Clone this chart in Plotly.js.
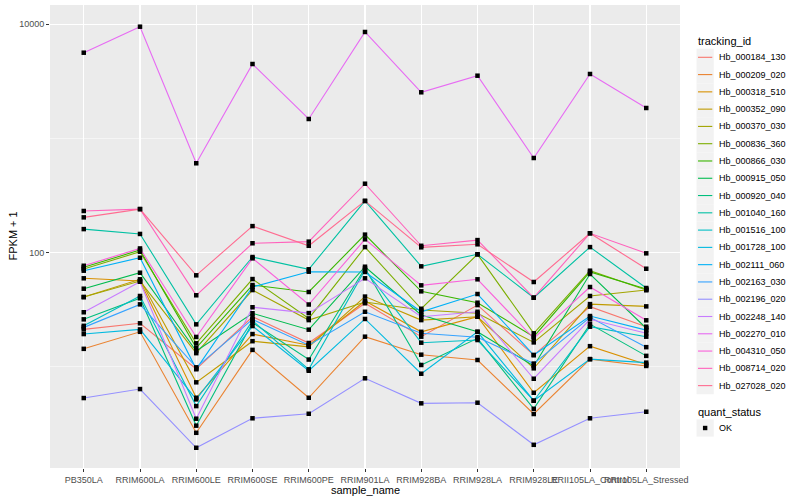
<!DOCTYPE html>
<html>
<head>
<meta charset="utf-8">
<script src="https://cdn.plot.ly/plotly-3.0.1.min.js"></script>
<style>html,body{margin:0;padding:0;background:#fff;}#chart{width:800px;height:500px;}</style>
</head>
<body>
<div id="chart"></div>
<script>
const categories = ['PB350LA','RRIM600LA','RRIM600LE','RRIM600SE','RRIM600PE','RRIM901LA','RRIM928BA','RRIM928LA','RRIM928LE','RRII105LA_Control','RRII105LA_Stressed'];

const trackingIds = ['Hb_000184_130','Hb_000209_020','Hb_000318_510','Hb_000352_090','Hb_000370_030','Hb_000836_360','Hb_000866_030','Hb_000915_050','Hb_000920_040','Hb_001040_160','Hb_001516_100','Hb_001728_100','Hb_002111_060','Hb_002163_030','Hb_002196_020','Hb_002248_140','Hb_002270_010','Hb_004310_050','Hb_008714_020','Hb_027028_020'];

const Hb_000184_130 = [21.3, 24.1, 9.58, 27.5, 16.2, 36.1, 18.4, 34.8, 12.7, 33.7, 22.5];
const Hb_000209_020 = [14.4, 20.3, 2.65, 14.1, 5.37, 18.4, 12.8, 11.5, 3.87, 11.7, 10.2];
const Hb_000318_510 = [59.7, 56.5, 5.37, 19.4, 15.5, 37.8, 20.3, 27.5, 5.94, 15.2, 10.5];
const Hb_000352_090 = [40.9, 58.5, 7.33, 16.8, 15.0, 41.3, 25.7, 27.5, 9.72, 35.5, 33.9];
const Hb_000370_030 = [40.9, 56.5, 13.2, 47.1, 25.7, 37.0, 31.5, 29.5, 16.4, 41.8, 47.1];
const Hb_000836_360 = [72.0, 102, 16.1, 58.8, 26.6, 112, 32.3, 96.8, 19.7, 69.6, 47.1];
const Hb_000866_030 = [74.5, 105.6, 14.7, 52.1, 45.3, 144, 45.9, 36.5, 18.4, 67.8, 48.1];
const Hb_000915_050 = [48.4, 66.8, 13.8, 29.5, 21.2, 75.4, 28.5, 20.3, 10.2, 65.1, 21.8];
const Hb_000920_040 = [26.1, 39.9, 3.06, 24.4, 11.6, 73.0, 10.4, 17.8, 4.30, 23.7, 12.5];
const Hb_001040_160 = [161, 146, 23.6, 91.7, 71.6, 284, 76.0, 96.8, 40.4, 112, 49.1];
const Hb_001516_100 = [22.9, 41.8, 4.54, 25.4, 9.53, 70.6, 16.3, 17.2, 5.06, 22.5, 18.4];
const Hb_001728_100 = [19.4, 21.3, 5.20, 22.8, 9.26, 26.3, 8.72, 20.3, 5.06, 11.7, 10.9];
const Hb_002111_060 = [69.6, 90.4, 9.58, 50.1, 68.2, 67.8, 30.4, 43.5, 12.7, 27.9, 21.0];
const Hb_002163_030 = [22.2, 35.3, 9.92, 26.1, 15.5, 30.4, 19.7, 18.2, 10.7, 27.2, 14.9];
const Hb_002196_020 = [5.34, 6.40, 1.96, 3.55, 3.89, 7.95, 4.80, 4.86, 2.08, 3.55, 4.05];
const Hb_002248_140 = [30.1, 55.7, 3.52, 33.3, 29.6, 59.7, 27.5, 30.4, 7.88, 26.1, 19.7];
const Hb_002270_010 = [5641, 9530, 607, 4491, 1482, 8565, 2539, 3548, 675, 3672, 1850];
const Hb_004310_050 = [76.9, 109, 18.3, 89.3, 35.2, 131, 51.8, 58.5, 17.8, 50.1, 25.6];
const Hb_008714_020 = [232, 241, 42.4, 121, 125, 402, 115, 129, 40.4, 148, 98.8];
const Hb_027028_020 = [204, 241, 63.4, 171, 115, 284, 111.5, 118.5, 55.4, 148, 72.4];

const seriesValues = [Hb_000184_130, Hb_000209_020, Hb_000318_510, Hb_000352_090, Hb_000370_030, Hb_000836_360, Hb_000866_030, Hb_000915_050, Hb_000920_040, Hb_001040_160, Hb_001516_100, Hb_001728_100, Hb_002111_060, Hb_002163_030, Hb_002196_020, Hb_002248_140, Hb_002270_010, Hb_004310_050, Hb_008714_020, Hb_027028_020];

const quantStatus = ['OK'];

const colors = ['#F8766D','#EA8331','#D89000','#C09B00','#A3A500','#7CAE00','#39B600','#00BB4E','#00BF7D','#00C1A3','#00BFC4','#00BAE0','#00B0F6','#35A2FF','#9590FF','#C77CFF','#E76BF3','#FA62DB','#FF62BC','#FF6C91'];

const FONT = 'Liberation Sans, Arial, Helvetica, sans-serif';

// plot area in pixels (used for legend / title placement only)
const PL = 50, PR = 680, PT = 5, PB = 468;
const xp = px => (px - PL) / (PR - PL);
const yp = py => (PB - py) / (PB - PT);

const traces = trackingIds.map((id, i) => ({
  type: 'scatter', mode: 'lines', name: id,
  x: categories, y: seriesValues[i],
  line: {color: colors[i], width: 1.1},
  showlegend: false, hoverinfo: 'skip'
}));

const allX = [], allY = [];
seriesValues.forEach(vals => vals.forEach((v, j) => { allX.push(categories[j]); allY.push(v); }));
traces.push({
  type: 'scatter', mode: 'markers', name: quantStatus[0],
  x: allX, y: allY,
  marker: {color: '#000000', size: 4.5, symbol: 'square', line: {width: 0}},
  showlegend: false, hoverinfo: 'skip'
});

// hand-built ggplot-style legends
const shapes = [], annotations = [];
const KEY = 17.28, KX0 = 696.5, TX = 716.5;
annotations.push({xref: 'paper', yref: 'paper', x: xp(696), y: yp(40.7), xanchor: 'left', yanchor: 'middle',
  text: 'tracking_id', showarrow: false, font: {family: FONT, size: 11, color: '#000000'}});
trackingIds.forEach((id, i) => {
  const cy = 57.3 + i * KEY;
  shapes.push({type: 'rect', xref: 'paper', yref: 'paper', x0: xp(KX0), x1: xp(KX0 + KEY), y0: yp(cy - KEY / 2), y1: yp(cy + KEY / 2),
    fillcolor: '#F2F2F2', line: {width: 0}, layer: 'above'});
  shapes.push({type: 'line', xref: 'paper', yref: 'paper', x0: xp(KX0 + 1.5), x1: xp(KX0 + KEY - 1.5), y0: yp(cy), y1: yp(cy),
    line: {color: colors[i], width: 1.1}, layer: 'above'});
  annotations.push({xref: 'paper', yref: 'paper', x: xp(TX), y: yp(cy), xanchor: 'left', yanchor: 'middle',
    text: id, showarrow: false, font: {family: FONT, size: 9, color: '#000000'}});
});
annotations.push({xref: 'paper', yref: 'paper', x: xp(696), y: yp(411.7), xanchor: 'left', yanchor: 'middle',
  text: 'quant_status', showarrow: false, font: {family: FONT, size: 11, color: '#000000'}});
{
  const cy = 428;
  shapes.push({type: 'rect', xref: 'paper', yref: 'paper', x0: xp(KX0), x1: xp(KX0 + KEY), y0: yp(cy - KEY / 2), y1: yp(cy + KEY / 2),
    fillcolor: '#F2F2F2', line: {width: 0}, layer: 'above'});
  shapes.push({type: 'rect', xref: 'paper', yref: 'paper', x0: xp(KX0 + KEY / 2 - 2.2), x1: xp(KX0 + KEY / 2 + 2.2), y0: yp(cy - 2.2), y1: yp(cy + 2.2),
    fillcolor: '#000000', line: {width: 0}, layer: 'above'});
  annotations.push({xref: 'paper', yref: 'paper', x: xp(TX), y: yp(cy), xanchor: 'left', yanchor: 'middle',
    text: quantStatus[0], showarrow: false, font: {family: FONT, size: 9, color: '#000000'}});
}
// axis titles
annotations.push({xref: 'paper', yref: 'paper', x: xp(365), y: yp(490), xanchor: 'center', yanchor: 'middle',
  text: 'sample_name', showarrow: false, font: {family: FONT, size: 11, color: '#000000'}});
annotations.push({xref: 'paper', yref: 'paper', x: xp(12), y: yp(236.5), xanchor: 'center', yanchor: 'middle', textangle: -90,
  text: 'FPKM + 1', showarrow: false, font: {family: FONT, size: 11, color: '#000000'}});

const layout = {
  width: 800, height: 500,
  margin: {l: PL, r: 800 - PR, t: PT, b: 500 - PB, pad: 0},
  paper_bgcolor: '#FFFFFF', plot_bgcolor: '#EBEBEB',
  font: {family: FONT, size: 9, color: '#4D4D4D'},
  showlegend: false,
  shapes: shapes, annotations: annotations,
  xaxis: {
    type: 'category', categoryorder: 'array', categoryarray: categories,
    range: [-0.6, 10.6], tickangle: 0,
    showgrid: true, gridcolor: '#FFFFFF', gridwidth: 1.1,
    zeroline: false, showline: false,
    ticks: 'outside', ticklen: 3, tickwidth: 1, tickcolor: '#333333',
    tickfont: {family: FONT, size: 9, color: '#4D4D4D'}
  },
  yaxis: {
    type: 'log', range: [0.115, 4.169],
    tickmode: 'array', tickvals: [100, 10000], ticktext: ['100', '10000'],
    showgrid: true, gridcolor: '#FFFFFF', gridwidth: 1.1,
    minor: {tickmode: 'array', tickvals: [10, 1000], showgrid: true, gridcolor: '#FFFFFF', gridwidth: 0.5, ticks: ''},
    zeroline: false, showline: false,
    ticks: 'outside', ticklen: 3, tickwidth: 1, tickcolor: '#333333',
    tickfont: {family: FONT, size: 9, color: '#4D4D4D'}
  }
};

Plotly.newPlot('chart', traces, layout, {staticPlot: true, displayModeBar: false});
</script>
</body>
</html>
